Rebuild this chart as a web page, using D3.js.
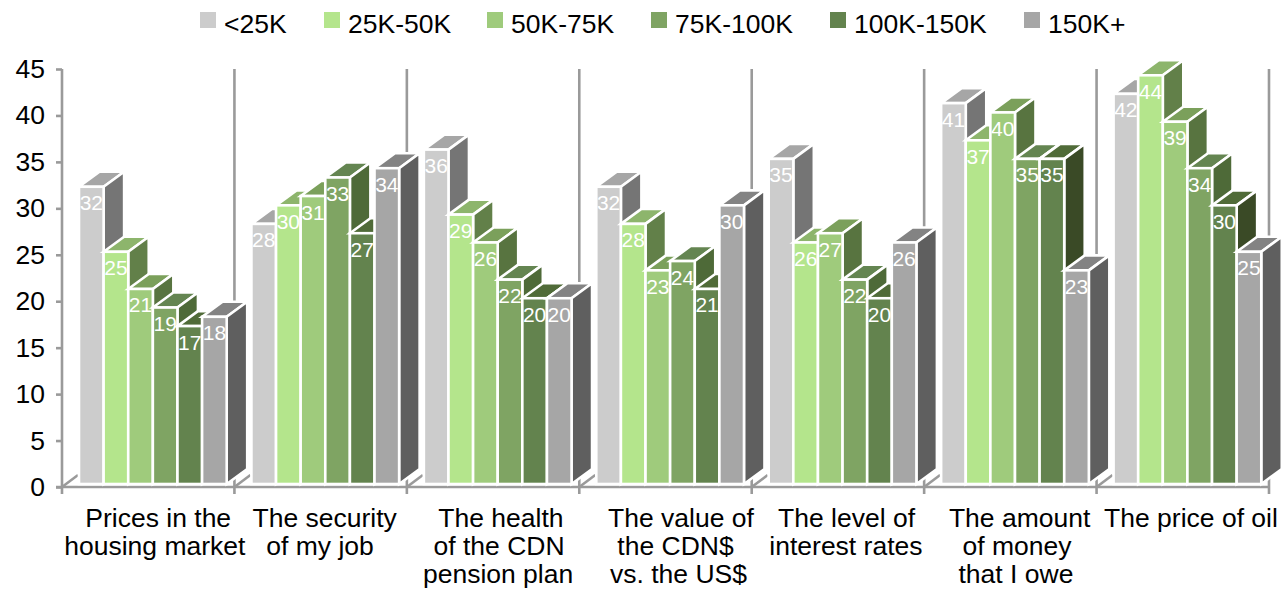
<!DOCTYPE html>
<html><head><meta charset="utf-8">
<script src="https://cdn.jsdelivr.net/npm/d3@7/dist/d3.min.js"></script>
<style>html,body{margin:0;padding:0;background:#fff}svg{display:block}text{font-family:"Liberation Sans",Arial,sans-serif}</style>
</head><body><svg id="c" width="1284" height="589"></svg>
<script>
const categories=[["Prices in the","housing market"],["The security","of my job"],["The health","of the CDN","pension plan"],["The value of","the CDN$","vs. the US$"],["The level of","interest rates"],["The amount","of money","that I owe"],["The price of oil"]];
const seriesNames=["<25K","25K-50K","50K-75K","75K-100K","100K-150K","150K+"];
const s0=[32,28,36,32,35,41,42];
const s1=[25,30,29,28,26,37,44];
const s2=[21,31,26,23,27,40,39];
const s3=[19,33,22,24,22,35,34];
const s4=[17,27,20,21,20,35,30];
const s5=[18,34,20,30,26,23,25];
const series=[s0,s1,s2,s3,s4,s5];
const yTicks=[0,5,10,15,20,25,30,35,40,45];
const frontColors=["#cccccc","#b4e58c","#9fcb7c","#7fa463","#63834e","#a6a6a6"];
const topColors=["#a6a6a6","#8db56c","#7ba05b","#648551","#506b38","#838383"];
const sideColors=["#757575","#628049","#587440","#4e6a38","#3a4a26","#5f5f5f"];
const legendX=[200,324,487,651,830,1024];
const labelNudge=[[10,6.6],[4,-0.6],[7.8,6,5],[15.5,10,13],[8.6,8],[9.3,6.6,5.6],[8.2]];

const svg=d3.select("#c");
const gray="#9a9a9a";
const y=d3.scaleLinear().domain([0,45]).range([487,69]);
const x=d3.scaleBand().domain(d3.range(categories.length)).range([62,1269]);
const inner=d3.scaleBand().domain(d3.range(seriesNames.length)).range([17,164.7]);
const dx=20.5,dy=-15,baseShift=3,floorX=16,floorY=-12;
const base=y(0)-baseShift;
const bounds=d3.range(categories.length+1).map(i=>i<categories.length?x(i):x(i-1)+x.bandwidth());

// walls and floor marks
svg.append("g").selectAll("line").data(bounds).join("line")
 .attr("x1",d=>d).attr("x2",d=>d).attr("y1",y(45)).attr("y2",y(0)+7)
 .attr("stroke",gray).attr("stroke-width",2.6);
svg.append("g").selectAll("line").data(bounds.slice(0,-1)).join("line")
 .attr("x1",d=>d).attr("x2",d=>d+floorX).attr("y1",y(0)).attr("y2",y(0)+floorY)
 .attr("stroke",gray).attr("stroke-width",2.6);
svg.append("line").attr("x1",56).attr("x2",1269).attr("y1",y(0)).attr("y2",y(0)).attr("stroke",gray).attr("stroke-width",2.6);

// y axis
const ya=svg.append("g").attr("transform","translate(62,0)")
 .call(d3.axisLeft(y).tickValues(yTicks).tickSize(6).tickPadding(11));
ya.select(".domain").remove();
ya.selectAll("line").attr("stroke",gray).attr("stroke-width",2.6);
ya.selectAll("text").attr("font-size",26.5).attr("fill","#000").attr("font-family","Liberation Sans");

// bars
categories.forEach((c,ci)=>{
 const g=svg.append("g");
 series.forEach((vals,si)=>{
  const v=vals[ci];
  const x0=x(ci)+inner(si), x1=x0+inner.bandwidth(), t=y(v)-baseShift;
  const bar=g.append("g").attr("stroke","#fff").attr("stroke-width",2.6).attr("stroke-linejoin","miter");
  bar.append("path").attr("fill",topColors[si]).attr("d",d3.line()([[x0,t],[x0+dx,t+dy],[x1+dx,t+dy],[x1,t]])+"Z");
  bar.append("path").attr("fill",sideColors[si]).attr("d",d3.line()([[x1,t],[x1+dx,t+dy],[x1+dx,base+dy],[x1,base]])+"Z");
  bar.append("rect").attr("x",x0).attr("y",t).attr("width",x1-x0).attr("height",base-t).attr("fill",frontColors[si]);
 });
 series.forEach((vals,si)=>{
  const v=vals[ci];
  g.append("text").attr("x",x(ci)+inner(si)+inner.bandwidth()/2).attr("y",y(v)-baseShift+23.5)
   .attr("text-anchor","middle").attr("font-size",21).attr("fill","#fff").text(v);
 });
});

// category labels
categories.forEach((lines,ci)=>{
 lines.forEach((l,i)=>{
  svg.append("text").attr("x",x(ci)+x.bandwidth()/2+labelNudge[ci][i]).attr("y",526.8+i*28.3)
   .attr("text-anchor","middle").attr("font-size",26.5).attr("fill","#000").text(l);
 });
});

// legend
const leg=svg.append("g").selectAll("g").data(seriesNames).join("g").attr("transform",(d,i)=>`translate(${legendX[i]},0)`);
leg.append("rect").attr("x",0).attr("y",12).attr("width",16).attr("height",16).attr("fill",(d,i)=>frontColors[i]);
leg.append("text").attr("x",24).attr("y",33).attr("font-size",26.5).attr("fill","#000").text(d=>d);
</script></body></html>
